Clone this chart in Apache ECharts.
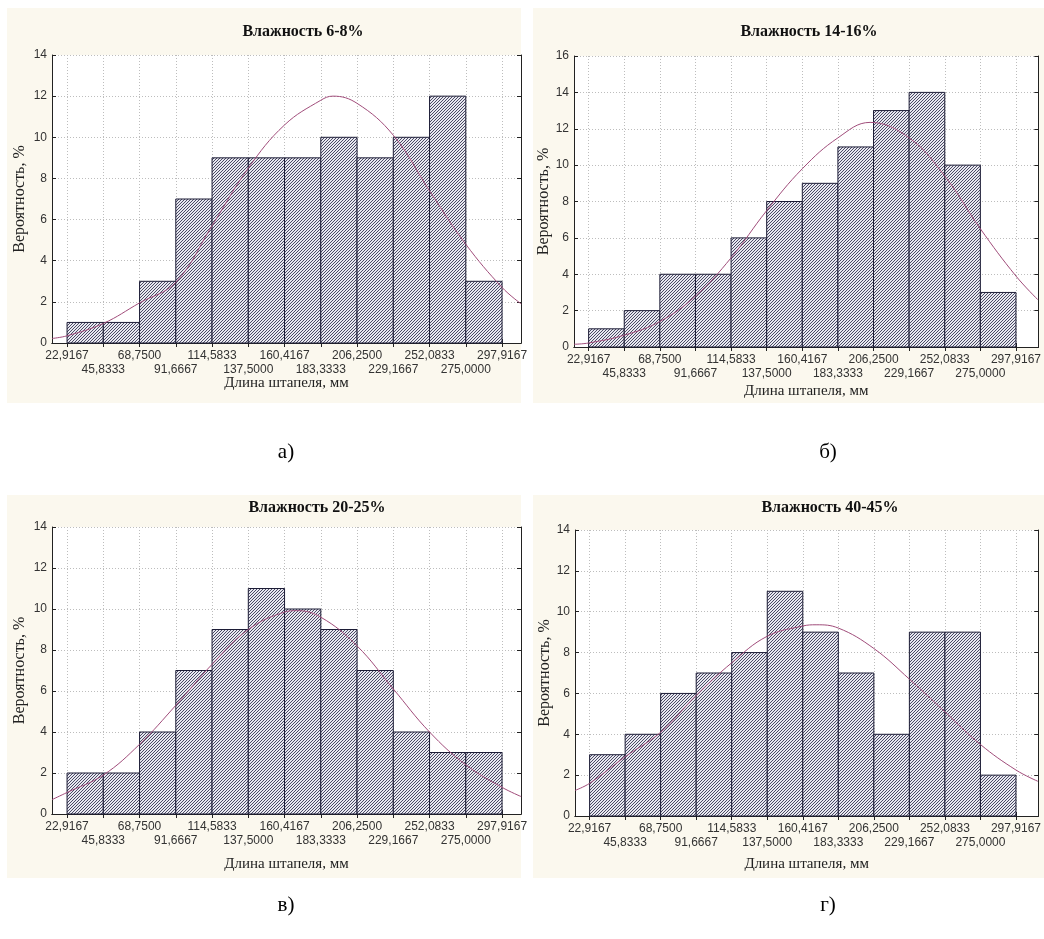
<!DOCTYPE html>
<html>
<head>
<meta charset="utf-8">
<script src="https://cdn.jsdelivr.net/npm/echarts@6/dist/echarts.min.js"></script>
<style>
  html, body { margin: 0; padding: 0; background: #fff; }
  #chart { width: 1044px; height: 939px; }
</style>
</head>
<body>
<div id="chart"></div>
<script>
// границы интервалов (они же подписи оси X)
const binEdges = [22.9167, 45.8333, 68.75, 91.6667, 114.5833, 137.5, 160.4167, 183.3333, 206.25, 229.1667, 252.0833, 275, 297.9167];
// подписи идут в два ряда: чётные сверху, нечётные снизу
const labelsUpper = binEdges.filter((_, i) => i % 2 === 0);
const labelsLower = binEdges.filter((_, i) => i % 2 === 1);

// частоты по интервалам, %
const countsA = [1, 1, 3, 7, 9, 9, 9, 10, 9, 10, 12, 3];
const countsB = [1, 2, 4, 4, 6, 8, 9, 11, 13, 14, 10, 3];
const countsC = [2, 2, 4, 7, 9, 11, 10, 9, 7, 4, 3, 3];
const countsD = [3, 4, 6, 7, 8, 11, 9, 7, 4, 9, 9, 2];

// точки кривой нормального распределения
const curveA = [[13.4, 0.22], [22.92, 0.35], [45.83, 0.95], [68.75, 1.95], [91.67, 2.95], [114.58, 5.7], [137.5, 8.5], [160.42, 10.6], [183.33, 11.8], [191, 12.0], [206.25, 11.65], [229.17, 10.1], [252.08, 7.4], [275, 4.8], [297.92, 2.7], [310, 1.9]];
const curveB = [[13.5, 0.15], [22.92, 0.22], [45.83, 0.65], [68.75, 1.4], [91.67, 2.8], [114.58, 4.9], [137.5, 7.5], [160.42, 9.8], [183.33, 11.5], [204, 12.35], [229.17, 11.5], [252.08, 9.4], [275, 6.5], [297.92, 3.9], [312, 2.6]];
const curveC = [[13.4, 0.7], [22.92, 1.05], [45.83, 1.9], [68.75, 3.4], [91.67, 5.3], [114.58, 7.3], [137.5, 9.0], [160.42, 9.85], [168, 9.92], [183.33, 9.6], [206.25, 8.2], [229.17, 6.1], [252.08, 4.0], [275, 2.4], [297.92, 1.3], [310, 0.85]];
const curveD = [[13.5, 1.25], [22.92, 1.6], [45.83, 2.9], [68.75, 4.1], [91.67, 5.9], [114.58, 7.5], [137.5, 8.8], [160.42, 9.3], [169, 9.36], [183.33, 9.2], [206.25, 8.2], [229.17, 6.7], [252.08, 5.1], [275, 3.5], [297.92, 2.25], [312, 1.7]];

const titles = ['Влажность 6-8%', 'Влажность 14-16%', 'Влажность 20-25%', 'Влажность 40-45%'];
const subLabels = ['а)', 'б)', 'в)', 'г)'];
const yMaxes = [14, 16, 14, 14];
const xAxisName = 'Длина штапеля, мм';
const yAxisName = 'Вероятность, %';

// штриховка столбцов
const hatchCanvas = document.createElement('canvas');
hatchCanvas.width = 3;
hatchCanvas.height = 3;
const hctx = hatchCanvas.getContext('2d');
hctx.fillStyle = '#e8e8f0';
hctx.fillRect(0, 0, 3, 3);
hctx.fillStyle = '#4a4a64';
hctx.fillRect(0, 2, 1, 1);
hctx.fillRect(1, 1, 1, 1);
hctx.fillRect(2, 0, 1, 1);
const hatch = { image: hatchCanvas, repeat: 'repeat' };

const serif = '"Liberation Serif", "DejaVu Serif", serif';
const sans = '"Liberation Sans", Arial, sans-serif';
const axisColor = '#222';
const gridLine = { show: true, lineStyle: { color: '#bdbdbd', type: [1, 2], width: 1 } };
const tickLabel = { fontFamily: sans, fontSize: 12, color: '#333' };
const fmtTick = (v) => v.toFixed(4).replace('.', ',');

// расположение панелей
const panels = [
  { grid: { left: 52, top: 55, width: 469, height: 288 }, xMin: 13.4, xMax: 309.9, bg: [7, 8, 514, 395], titleAt: [303, 32], subAt: [286, 452], yNameGap: 24, xNameGap: 33 },
  { grid: { left: 574, top: 56, width: 476, height: 291 }, xMin: 13.5, xMax: 312.3, bg: [533, 8, 511, 395], titleAt: [809, 32], subAt: [828, 452], yNameGap: 22, xNameGap: 37 },
  { grid: { left: 52, top: 527, width: 469, height: 287 }, xMin: 13.4, xMax: 309.9, bg: [7, 495, 514, 383], titleAt: [317, 508], subAt: [286, 905], yNameGap: 24, xNameGap: 43 },
  { grid: { left: 575, top: 530, width: 476, height: 286 }, xMin: 13.5, xMax: 312.3, bg: [533, 495, 511, 383], titleAt: [830, 508], subAt: [828, 905], yNameGap: 18, xNameGap: 41 }
];
const countsAll = [countsA, countsB, countsC, countsD];
const curvesAll = [curveA, curveB, curveC, curveD];

const grids = [];
const xAxes = [];
const yAxes = [];
const series = [];
const graphics = [];

panels.forEach((p, k) => {
  grids.push({ ...p.grid, show: true, backgroundColor: '#fff', borderWidth: 0 });

  // основная нижняя ось: линия, риски, сетка и верхний ряд подписей
  xAxes.push({
    gridIndex: k, type: 'value', position: 'bottom', min: p.xMin, max: p.xMax,
    name: xAxisName, nameLocation: 'middle', nameGap: p.xNameGap,
    nameTextStyle: { fontFamily: serif, fontSize: 15, color: '#222' },
    axisLine: { show: true, lineStyle: { color: axisColor } },
    axisTick: { show: true, inside: true, length: 4, customValues: binEdges, lineStyle: { color: axisColor } },
    axisLabel: { ...tickLabel, customValues: labelsUpper, formatter: fmtTick, showMinLabel: true, showMaxLabel: true, margin: 7 },
    splitLine: gridLine
  });
  // верхняя рамка
  xAxes.push({
    gridIndex: k, type: 'value', position: 'top', min: p.xMin, max: p.xMax,
    axisLine: { show: true, lineStyle: { color: axisColor } },
    axisTick: { show: true, inside: true, length: 4, customValues: binEdges, lineStyle: { color: axisColor } },
    axisLabel: { show: false },
    splitLine: { show: false }
  });
  // нижний ряд подписей
  xAxes.push({
    gridIndex: k, type: 'value', position: 'bottom', min: p.xMin, max: p.xMax,
    axisLine: { show: false },
    axisTick: { show: false },
    axisLabel: { ...tickLabel, customValues: labelsLower, formatter: fmtTick, showMinLabel: true, showMaxLabel: true, margin: 21 },
    splitLine: { show: false }
  });

  yAxes.push({
    gridIndex: k, type: 'value', position: 'left', min: 0, max: yMaxes[k], interval: 2,
    name: yAxisName, nameLocation: 'middle', nameGap: p.yNameGap, nameRotate: 90,
    nameTextStyle: { fontFamily: serif, fontSize: 16, color: '#222' },
    axisLine: { show: true, lineStyle: { color: axisColor } },
    axisTick: { show: true, inside: true, length: 4, lineStyle: { color: axisColor } },
    axisLabel: { ...tickLabel, margin: 5 },
    splitLine: gridLine
  });
  yAxes.push({
    gridIndex: k, type: 'value', position: 'right', min: 0, max: yMaxes[k], interval: 2,
    axisLine: { show: true, lineStyle: { color: axisColor } },
    axisTick: { show: true, inside: true, length: 4, lineStyle: { color: axisColor } },
    axisLabel: { show: false },
    splitLine: { show: false }
  });

  series.push({
    type: 'custom',
    xAxisIndex: k * 3, yAxisIndex: k * 2,
    data: countsAll[k].map((c, i) => [binEdges[i], binEdges[i + 1], c]),
    encode: { x: [0, 1], y: 2 },
    renderItem: (params, api) => {
      const p0 = api.coord([api.value(0), api.value(2)]);
      const p1 = api.coord([api.value(1), 0]);
      return {
        type: 'rect',
        shape: { x: p0[0], y: p0[1], width: p1[0] - p0[0], height: p1[1] - p0[1] },
        style: { fill: hatch, stroke: '#1c1c36', lineWidth: 1 }
      };
    },
    z: 2
  });
  series.push({
    type: 'line',
    xAxisIndex: k * 3, yAxisIndex: k * 2,
    data: curvesAll[k],
    smooth: 0.4,
    showSymbol: false,
    lineStyle: { color: '#a04c7a', width: 1 },
    z: 3
  });

  graphics.push({
    type: 'rect', z: -10,
    shape: { x: p.bg[0], y: p.bg[1], width: p.bg[2], height: p.bg[3] },
    style: { fill: '#fbf8ee' }
  });
  graphics.push({
    type: 'text', z: 10, x: p.titleAt[0], y: p.titleAt[1],
    style: { text: titles[k], fontFamily: serif, fontWeight: 'bold', fontSize: 16, fill: '#111', align: 'center', verticalAlign: 'middle' }
  });
  graphics.push({
    type: 'text', z: 10, x: p.subAt[0], y: p.subAt[1],
    style: { text: subLabels[k], fontFamily: serif, fontSize: 21, fill: '#000', align: 'center', verticalAlign: 'middle' }
  });
});

const chart = echarts.init(document.getElementById('chart'));
chart.setOption({
  backgroundColor: '#fff',
  animation: false,
  grid: grids,
  xAxis: xAxes,
  yAxis: yAxes,
  series: series,
  graphic: { elements: graphics }
});
</script>
</body>
</html>
